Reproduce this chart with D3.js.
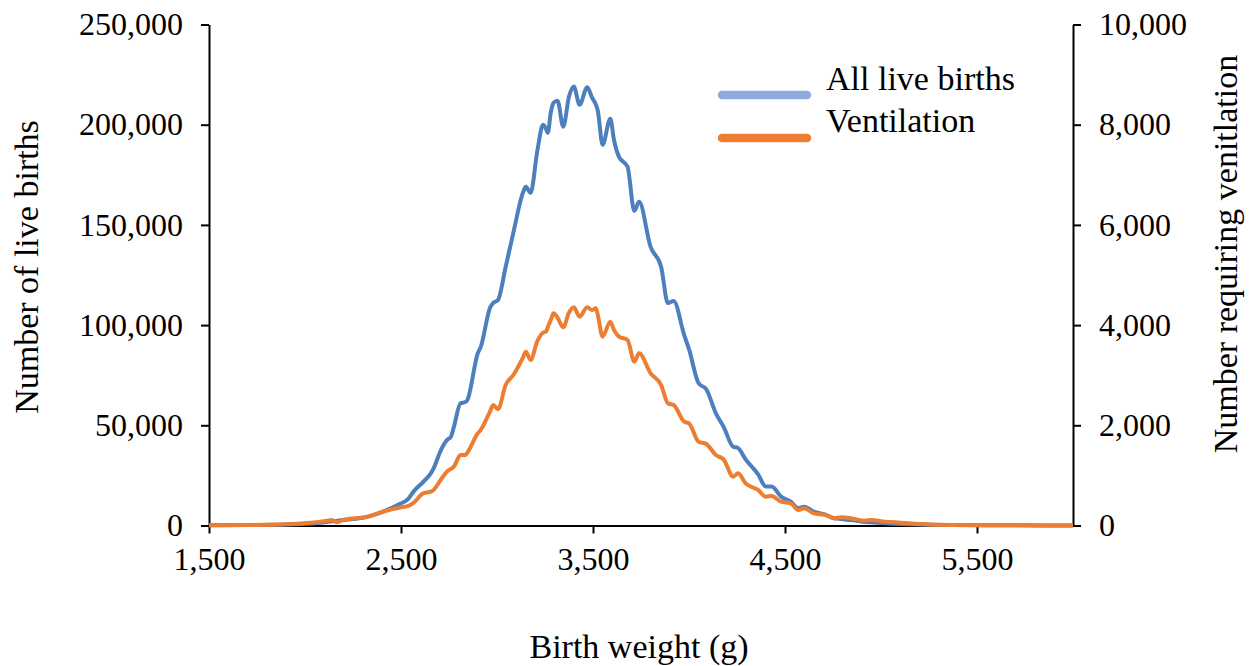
<!DOCTYPE html>
<html>
<head>
<meta charset="utf-8">
<script src="https://cdn.jsdelivr.net/npm/d3@7"></script>
<style>
  html, body { margin: 0; padding: 0; background: #fff; }
  svg { display: block; }
  text { font-family: "Liberation Serif", "Times New Roman", serif; fill: #000; }
</style>
</head>
<body>
<svg id="chart" width="1257" height="666"></svg>
<script>
// Birth weight (g)
const birthWeights = [1500,1700,1900,2000,2115,2140,2165,2200,2325,2410,2495,2535,2565,2615,2655,2670,2705,2740,2760,2775,2810,2835,2845,2900,2915,2965,2980,3005,3045,3085,3135,3150,3175,3210,3240,3255,3265,3280,3295,3315,3345,3375,3400,3430,3470,3495,3515,3525,3550,3590,3610,3635,3680,3715,3740,3800,3855,3890,3920,3975,4000,4050,4090,4140,4180,4230,4255,4295,4360,4400,4430,4480,4530,4570,4600,4650,4715,4755,4795,4845,4915,4950,5020,5105,5195,5365,5630,6000];

// All live births (left axis)
const liveBirths = [100,200,500,900,1800,2100,2300,2700,4300,7000,10800,13000,16900,21700,26000,28500,37000,42700,44300,49000,61000,61600,62500,86000,89000,109000,111000,112500,129000,146000,166000,169000,166000,187000,200000,198000,196000,206000,211000,212000,199000,214000,219000,210000,218700,213500,210000,207000,190000,203000,192000,184000,179000,157000,161500,139000,129000,111000,112000,95000,88000,71000,68000,56000,49300,39300,38700,33000,25500,19400,19400,14400,11900,8700,9400,6900,5200,3600,3200,2700,1800,1600,1100,750,500,250,100,0];

// Number requiring ventilation (right axis)
const ventilation = [5,10,25,45,96,112,66,110,176,280,360,385,450,640,675,710,900,1080,1130,1174,1407,1407,1450,1840,1906,2290,2405,2319,2804,3004,3350,3469,3303,3680,3850,3869,3965,4100,4235,4150,3956,4250,4355,4168,4355,4301,4335,4200,3769,4068,3900,3769,3703,3270,3437,3038,2804,2439,2405,2072,2040,1673,1627,1407,1320,974,1042,842,709,575,589,475,443,309,343,243,210,144,164,144,96,110,76,56,30,10,5,0];

const xTicks = [1500, 2500, 3500, 4500, 5500];
const leftTicks = [0, 50000, 100000, 150000, 200000, 250000];
const rightTicks = [0, 2000, 4000, 6000, 8000, 10000];
const seriesNames = ["All live births", "Ventilation"];
const xTitle = "Birth weight (g)";
const leftTitle = "Number of live births";
const rightTitle = "Number requiring venitlation";

const svg = d3.select("#chart");
const L = 209, R = 1073, T = 24.5, B = 525.5;

const x = d3.scaleLinear().domain([1500, 6000]).range([L, R]);
const yL = d3.scaleLinear().domain([0, 250000]).range([B, T]);
const yR = d3.scaleLinear().domain([0, 10000]).range([B, T]);
const fmt = d3.format(",");

function styleAxis(g, size) {
  g.selectAll(".domain").attr("stroke", "#000").attr("stroke-width", 2);
  g.selectAll(".tick line").attr("stroke", "#000").attr("stroke-width", 2);
  g.selectAll(".tick text").style("font-family", '"Liberation Serif", serif').style("font-size", size + "px").attr("fill", "#000");
}

const gx = svg.append("g").attr("transform", `translate(0,${B})`)
  .call(d3.axisBottom(x).tickValues(xTicks).tickFormat(fmt).tickSize(8).tickSizeOuter(0).tickPadding(14));
styleAxis(gx, 32);

const gl = svg.append("g").attr("transform", `translate(${L},0)`)
  .call(d3.axisLeft(yL).tickValues(leftTicks).tickFormat(fmt).tickSize(8).tickSizeOuter(0).tickPadding(18));
styleAxis(gl, 32);

const gr = svg.append("g").attr("transform", `translate(${R},0)`)
  .call(d3.axisRight(yR).tickValues(rightTicks).tickFormat(fmt).tickSize(8).tickSizeOuter(0).tickPadding(18));
styleAxis(gr, 32);

const data = birthWeights.map((w, i) => ({ w, b: liveBirths[i], v: ventilation[i] }));

const lineB = d3.line().x(d => x(d.w)).y(d => yL(d.b)).curve(d3.curveMonotoneX);
const lineV = d3.line().x(d => x(d.w)).y(d => yR(d.v)).curve(d3.curveMonotoneX);

svg.append("path").datum(data).attr("d", lineB)
  .attr("fill", "none").attr("stroke", "#4d7fbd").attr("stroke-width", 4).attr("stroke-linejoin", "round");
svg.append("path").datum(data).attr("d", lineV)
  .attr("fill", "none").attr("stroke", "#ed7d31").attr("stroke-width", 4).attr("stroke-linejoin", "round");

// Legend
const legend = svg.append("g");
const legendColors = ["#8faadc", "#ed7d31"];
const legendY = [95, 138];
const textY = [90, 132];
seriesNames.forEach((name, i) => {
  legend.append("line").attr("x1", 722).attr("x2", 807).attr("y1", legendY[i]).attr("y2", legendY[i])
    .attr("stroke", legendColors[i]).attr("stroke-width", 8.5).attr("stroke-linecap", "round");
  legend.append("text").attr("x", 826).attr("y", textY[i]).style("font-size", "34px").text(name);
});

// Axis titles
svg.append("text").attr("x", 639).attr("y", 658).attr("text-anchor", "middle").style("font-size", "34px").text(xTitle);
svg.append("text").attr("transform", "translate(38,267) rotate(-90)").attr("text-anchor", "middle").style("font-size", "34px").text(leftTitle);
svg.append("text").attr("transform", "translate(1237,254) rotate(-90)").attr("text-anchor", "middle").style("font-size", "34px").text(rightTitle);
</script>
</body>
</html>
